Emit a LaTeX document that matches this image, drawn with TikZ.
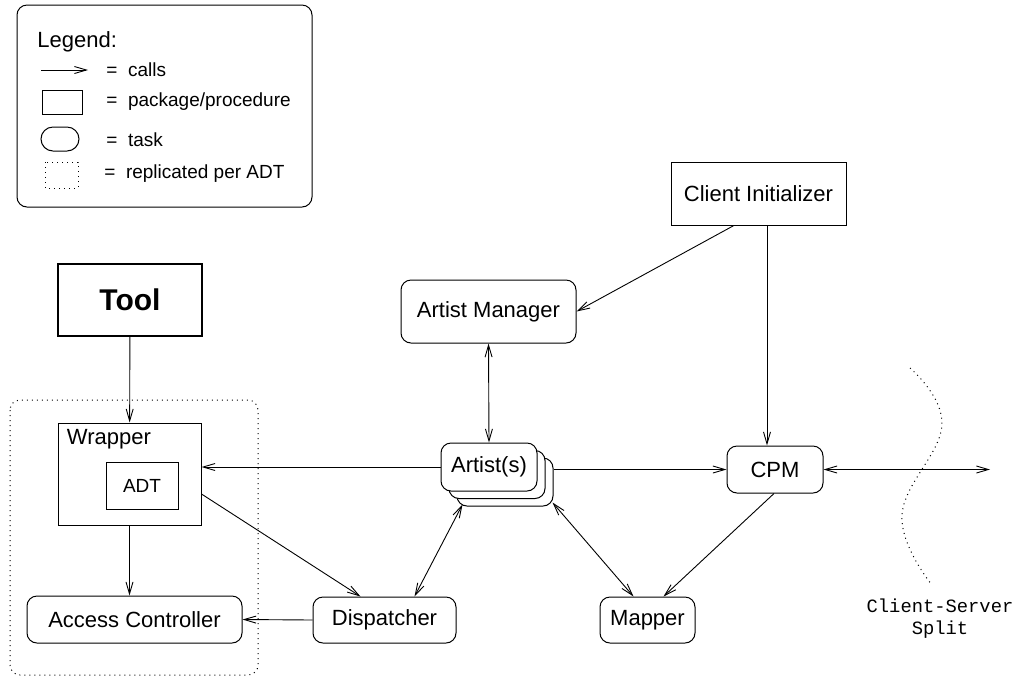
\documentclass[tikz,border=0pt]{standalone}
\usepackage{fontspec}
\setmainfont{Liberation Sans}
\setmonofont{Liberation Mono}
\usepackage{tikz}
\usetikzlibrary{calc,positioning,arrows.meta}
\tikzset{
  pkg/.style={rectangle, draw=black, line width=0.5pt, inner sep=0pt, fill=white, font=\fontsize{11}{13}\selectfont},
  task/.style={rectangle, rounded corners=5pt, draw=black, line width=0.5pt, inner sep=0pt, fill=white, font=\fontsize{11}{13}\selectfont},
  toolbox/.style={rectangle, draw=black, line width=1.1pt, inner sep=0pt, font=\fontsize{15}{18}\selectfont\bfseries},
  repl/.style={draw=black, dotted, line width=0.5pt},
  leg/.style={anchor=west, inner sep=0pt, font=\fontsize{9.5}{11}\selectfont},
  line/.style={draw, line width=0.45pt, -{Straight Barb[length=6pt,width=3.5pt]}},
  dline/.style={draw, line width=0.45pt, {Straight Barb[length=6pt,width=3.5pt]}-{Straight Barb[length=6pt,width=3.5pt]}},
}

\begin{document}
\begin{tikzpicture}[x=0.5pt,y=-0.5pt]
    \useasboundingbox (0,0) rectangle (1019,677);

    % legend
    \draw[line width=0.5pt, rounded corners=5pt] (17,5) rectangle (312,207);
    \node[leg, font=\fontsize{11}{13}\selectfont] (legtitle) at (37,42) {Legend:};
    \draw[line] (41,70) -- (88,70);
    \node[leg] (lcalls) at (106,70) {=~~calls};
    \draw[line width=0.5pt] (42,90) rectangle (82,114);
    \node[leg] (lpkg) at (106,102) {=~~package/procedure};
    \draw[line width=0.5pt, rounded corners=6pt] (41,127) rectangle (79,151);
    \node[leg] (ltask) at (106,140) {=~~task};
    \draw[repl] (45,162) rectangle (78,188);
    \node[leg] (lrepl) at (104,174) {=~~replicated per ADT};

    % replicated per ADT
    \draw[repl, rounded corners=5pt] (10,400) rectangle (258,675);

    \node[toolbox, minimum width=72pt, minimum height=36pt] (tool) at (130,300) {Tool};
    \node[task, minimum width=87.5pt, minimum height=31.5pt] (artmgr) at (488.5,311.5) {Artist Manager};
    \node[pkg, minimum width=87.5pt, minimum height=31.5pt] (clinit) at (758.5,193.5) {Client Initializer};
    \node[pkg, minimum width=71.5pt, minimum height=51pt,
      label={[anchor=base west, inner sep=0pt, xshift=4.5pt, yshift=-11pt, font=\fontsize{11}{13}\selectfont]north west:Wrapper}] (wrapper) at (129.5,474) {};
    \node[pkg, minimum width=36pt, minimum height=23.5pt, font=\fontsize{9.5}{11}\selectfont] (adt) at (142,485.5) {ADT};
    \node[task, minimum width=107.5pt, minimum height=23.5pt] (acc) at (134.5,619.5) {Access Controller};
    \node[task, minimum width=71.5pt, minimum height=23pt] (disp) at (384.5,620) {Dispatcher};
    \node[task, minimum width=47.5pt, minimum height=23pt] (mapper) at (647.5,620) {Mapper};
    \node[task, minimum width=48pt, minimum height=23.5pt] (cpm) at (775,469.5) {CPM};

    % stacked artists
    \node[task, minimum width=48pt, minimum height=24pt] (art3) at (505,482) {};
    \node[task, minimum width=48pt, minimum height=24pt] (art2) at (497,474.5) {};
    \node[task, minimum width=48pt, minimum height=24pt] (artists) at (489,467) {Artist(s)};

    \coordinate (srv) at (990,469.5);
    \coordinate (cpmin) at ([xshift=-4pt]cpm.north);

    \node[font=\fontsize{9.4}{11}\selectfont\ttfamily, align=center, inner sep=0pt] (split) at (940,619) {Client-Server\\Split};
    \draw[dotted, line width=0.5pt] plot[smooth, tension=0.7] coordinates {(910,368) (942,425) (902,515) (932,585)};

    \begin{scope} [every path/.style=line]
      \path (tool) -- (wrapper);
      \path ($(clinit.south west)!0.36!(clinit.south east)$) -- (artmgr.east);
      \path (clinit.south -| cpmin) -- (cpmin);
      \path (artists.west) -- (artists.west -| wrapper.east);
      \path (cpm.west -| art3.east) -- (cpm.west);
      \path ([yshift=-10pt]wrapper.east) -- ([xshift=-12pt]disp.north);
      \path (wrapper.south) -- (wrapper.south |- acc.north);
      \path (disp.west) -- (acc.east);
      \path ([xshift=-0.5pt]cpm.south) -- ([xshift=8pt]mapper.north);
    \end{scope}
    \begin{scope} [every path/.style=dline]
      \path (artmgr.south) -- (artists.north);
      \path (cpm.east) -- (srv);
      \path ([xshift=15pt]disp.north) -- ([xshift=3pt,yshift=1pt]art3.south west);
      \path ([xshift=-0.5pt,yshift=2pt]art3.south east) -- ([xshift=-7pt]mapper.north);
    \end{scope}
\end{tikzpicture}
\end{document}
